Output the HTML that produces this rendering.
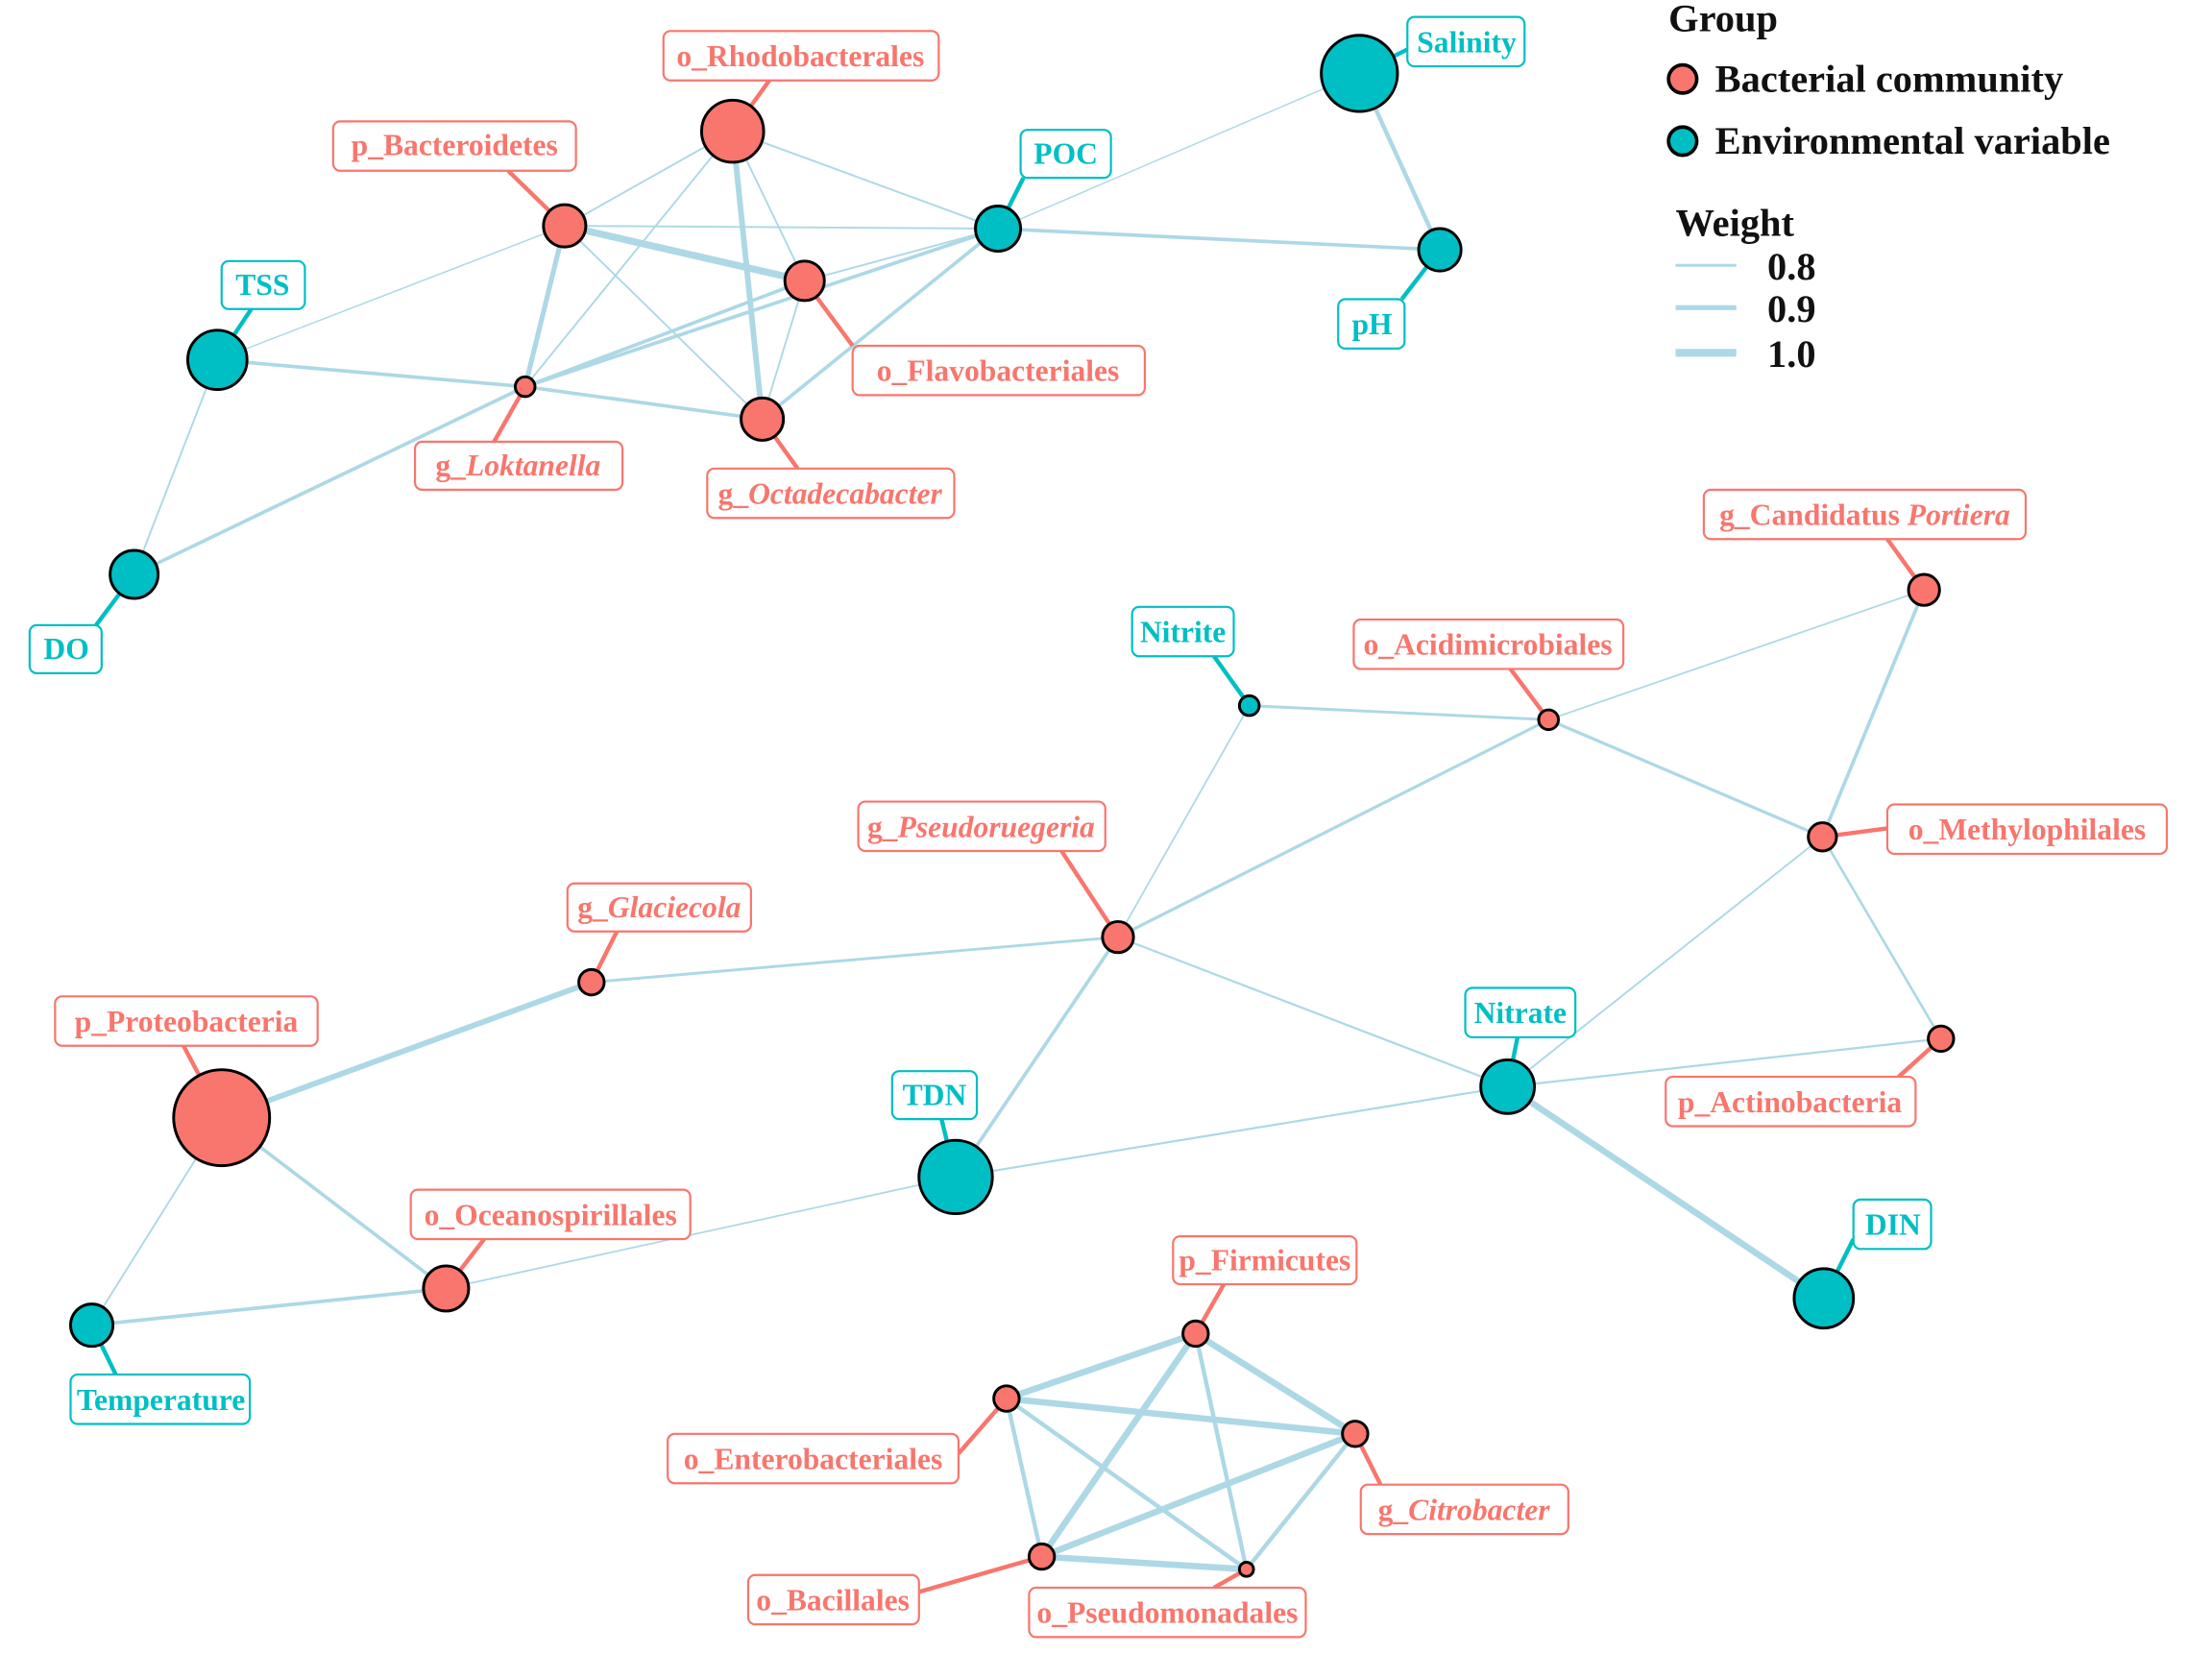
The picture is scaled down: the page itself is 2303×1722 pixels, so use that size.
<!DOCTYPE html>
<html><head><meta charset="utf-8"><style>
html,body{margin:0;padding:0;background:#fff;}
svg{display:block;}
text{font-family:"Liberation Serif",serif;font-weight:bold;}
.r text{fill:#F8766D;}
.t text{fill:#00BFC4;}
</style></head><body>
<svg width="2303" height="1722" viewBox="0 0 1567 1172" preserveAspectRatio="none" xmlns="http://www.w3.org/2000/svg">
<rect width="1567" height="1172" fill="#fff"/>
<g stroke="#ADD8E6" stroke-linecap="round" fill="none">
<line x1="400" y1="160" x2="519" y2="93" stroke-width="1.3"/>
<line x1="400" y1="160" x2="570" y2="199" stroke-width="5"/>
<line x1="400" y1="160" x2="707" y2="162" stroke-width="1.3"/>
<line x1="400" y1="160" x2="372" y2="274" stroke-width="3.5"/>
<line x1="400" y1="160" x2="540" y2="297" stroke-width="1.3"/>
<line x1="519" y1="93" x2="540" y2="297" stroke-width="4"/>
<line x1="519" y1="93" x2="570" y2="199" stroke-width="1.3"/>
<line x1="519" y1="93" x2="372" y2="274" stroke-width="1.3"/>
<line x1="519" y1="93" x2="707" y2="162" stroke-width="1.3"/>
<line x1="570" y1="199" x2="540" y2="297" stroke-width="1.3"/>
<line x1="570" y1="199" x2="707" y2="162" stroke-width="1.3"/>
<line x1="372" y1="274" x2="707" y2="162" stroke-width="2.5"/>
<line x1="372" y1="274" x2="570" y2="199" stroke-width="2.5"/>
<line x1="372" y1="274" x2="540" y2="297" stroke-width="2.5"/>
<line x1="154" y1="255" x2="372" y2="274" stroke-width="2.5"/>
<line x1="154" y1="255" x2="400" y2="160" stroke-width="1"/>
<line x1="154" y1="255" x2="95" y2="407" stroke-width="1.3"/>
<line x1="95" y1="407" x2="372" y2="274" stroke-width="2.5"/>
<line x1="540" y1="297" x2="707" y2="162" stroke-width="2.5"/>
<line x1="707" y1="162" x2="1020" y2="177" stroke-width="2.5"/>
<line x1="707" y1="162" x2="963" y2="52" stroke-width="1"/>
<line x1="963" y1="52" x2="1020" y2="177" stroke-width="3"/>
<line x1="885" y1="500" x2="1097" y2="510" stroke-width="2"/>
<line x1="885" y1="500" x2="792" y2="664" stroke-width="1.2"/>
<line x1="1097" y1="510" x2="1363" y2="418" stroke-width="1.2"/>
<line x1="1097" y1="510" x2="1291" y2="593" stroke-width="2.2"/>
<line x1="1097" y1="510" x2="792" y2="664" stroke-width="2.2"/>
<line x1="1363" y1="418" x2="1291" y2="593" stroke-width="2.5"/>
<line x1="1291" y1="593" x2="1068" y2="770" stroke-width="1.3"/>
<line x1="1291" y1="593" x2="1375" y2="736" stroke-width="1.8"/>
<line x1="792" y1="664" x2="419" y2="696" stroke-width="2"/>
<line x1="792" y1="664" x2="677" y2="834" stroke-width="2.5"/>
<line x1="792" y1="664" x2="1068" y2="770" stroke-width="1.5"/>
<line x1="1068" y1="770" x2="1375" y2="736" stroke-width="1.5"/>
<line x1="1068" y1="770" x2="677" y2="834" stroke-width="1.5"/>
<line x1="1068" y1="770" x2="1292" y2="920" stroke-width="4.5"/>
<line x1="677" y1="834" x2="316" y2="913" stroke-width="1.2"/>
<line x1="419" y1="696" x2="157" y2="792" stroke-width="4"/>
<line x1="157" y1="792" x2="316" y2="913" stroke-width="2.5"/>
<line x1="157" y1="792" x2="65" y2="939" stroke-width="1.3"/>
<line x1="65" y1="939" x2="316" y2="913" stroke-width="2.5"/>
<line x1="847" y1="945" x2="713" y2="991" stroke-width="4.5"/>
<line x1="847" y1="945" x2="960" y2="1016" stroke-width="4.5"/>
<line x1="847" y1="945" x2="738" y2="1103" stroke-width="4.5"/>
<line x1="847" y1="945" x2="883" y2="1112" stroke-width="3"/>
<line x1="713" y1="991" x2="960" y2="1016" stroke-width="4.5"/>
<line x1="713" y1="991" x2="738" y2="1103" stroke-width="3"/>
<line x1="713" y1="991" x2="883" y2="1112" stroke-width="3"/>
<line x1="960" y1="1016" x2="738" y2="1103" stroke-width="4.5"/>
<line x1="960" y1="1016" x2="883" y2="1112" stroke-width="3"/>
<line x1="738" y1="1103" x2="883" y2="1112" stroke-width="4.5"/>
</g>
<g stroke-width="3">
<g stroke="#F8766D">
<line x1="519" y1="93" x2="545" y2="57"/>
<line x1="400" y1="160" x2="360" y2="121"/>
<line x1="570" y1="199" x2="604" y2="245"/>
<line x1="372" y1="274" x2="350" y2="313"/>
<line x1="540" y1="297" x2="565" y2="332"/>
<line x1="1363" y1="418" x2="1337" y2="382"/>
<line x1="1097" y1="510" x2="1070" y2="474"/>
<line x1="1291" y1="593" x2="1337" y2="587"/>
<line x1="792" y1="664" x2="752" y2="603"/>
<line x1="419" y1="696" x2="437" y2="660"/>
<line x1="157" y1="792" x2="130" y2="741"/>
<line x1="1375" y1="736" x2="1345" y2="763"/>
<line x1="316" y1="913" x2="343" y2="878"/>
<line x1="847" y1="945" x2="867" y2="910"/>
<line x1="713" y1="991" x2="679" y2="1030"/>
<line x1="960" y1="1016" x2="978" y2="1052"/>
<line x1="738" y1="1103" x2="651" y2="1128"/>
<line x1="883" y1="1112" x2="860" y2="1125"/>
</g>
<g stroke="#00BFC4">
<line x1="154" y1="255" x2="178" y2="219"/>
<line x1="95" y1="407" x2="68" y2="443"/>
<line x1="707" y1="162" x2="725" y2="126"/>
<line x1="963" y1="52" x2="997" y2="35"/>
<line x1="1020" y1="177" x2="993" y2="212"/>
<line x1="885" y1="500" x2="860" y2="465"/>
<line x1="1068" y1="770" x2="1075" y2="735"/>
<line x1="677" y1="834" x2="667" y2="793"/>
<line x1="1292" y1="920" x2="1313" y2="878"/>
<line x1="65" y1="939" x2="82" y2="974"/>
</g>
</g>
<g stroke="#000" stroke-width="2">
<g fill="#F8766D">
<circle cx="519" cy="93" r="22"/><circle cx="400" cy="160" r="15"/><circle cx="570" cy="199" r="14"/>
<circle cx="372" cy="274" r="7"/><circle cx="540" cy="297" r="15"/><circle cx="1363" cy="418" r="11"/>
<circle cx="1097" cy="510" r="7"/><circle cx="1291" cy="593" r="10"/><circle cx="792" cy="664" r="11"/>
<circle cx="419" cy="696" r="9"/><circle cx="157" cy="792" r="34"/><circle cx="1375" cy="736" r="9"/>
<circle cx="316" cy="913" r="16"/><circle cx="847" cy="945" r="9"/><circle cx="713" cy="991" r="9"/>
<circle cx="960" cy="1016" r="9"/><circle cx="738" cy="1103" r="9"/><circle cx="883" cy="1112" r="5"/>
</g>
<g fill="#00BFC4">
<circle cx="154" cy="255" r="21"/><circle cx="95" cy="407" r="17"/><circle cx="707" cy="162" r="16"/>
<circle cx="963" cy="52" r="27"/><circle cx="1020" cy="177" r="15"/><circle cx="885" cy="500" r="7"/>
<circle cx="1068" cy="770" r="19"/><circle cx="677" cy="834" r="26"/><circle cx="1292" cy="920" r="21"/>
<circle cx="65" cy="939" r="15"/>
</g>
</g>
<g font-size="21.5" text-anchor="middle">
<g class="r">
<g fill="#fff" stroke="#F8766D" stroke-width="1.5">
<rect x="470" y="22" width="195" height="35" rx="5"/>
<rect x="236" y="86" width="172" height="35" rx="5"/>
<rect x="604" y="245" width="207" height="35" rx="5"/>
<rect x="294" y="313" width="147" height="34" rx="5"/>
<rect x="501" y="332" width="175" height="35" rx="5"/>
<rect x="1207" y="347" width="228" height="35" rx="5"/>
<rect x="959" y="439" width="191" height="35" rx="5"/>
<rect x="1337" y="570" width="198" height="35" rx="5"/>
<rect x="608" y="568" width="175" height="35" rx="5"/>
<rect x="402" y="626" width="130" height="34" rx="5"/>
<rect x="39" y="706" width="186" height="35" rx="5"/>
<rect x="1180" y="763" width="177" height="35" rx="5"/>
<rect x="291" y="843" width="198" height="35" rx="5"/>
<rect x="831" y="876" width="130" height="34" rx="5"/>
<rect x="473" y="1016" width="206" height="35" rx="5"/>
<rect x="964" y="1052" width="147" height="35" rx="5"/>
<rect x="530" y="1116" width="121" height="35" rx="5"/>
<rect x="729" y="1125" width="196" height="35" rx="5"/>
</g>
<text x="567" y="47">o_Rhodobacterales</text>
<text x="322" y="110">p_Bacteroidetes</text>
<text x="707" y="270">o_Flavobacteriales</text>
<text x="367" y="337">g_<tspan font-style="italic">Loktanella</tspan></text>
<text x="588" y="357">g_<tspan font-style="italic">Octadecabacter</tspan></text>
<text x="1321" y="372">g_Candidatus <tspan font-style="italic">Portiera</tspan></text>
<text x="1054" y="464">o_Acidimicrobiales</text>
<text x="1436" y="595">o_Methylophilales</text>
<text x="695" y="593">g_<tspan font-style="italic">Pseudoruegeria</tspan></text>
<text x="467" y="650">g_<tspan font-style="italic">Glaciecola</tspan></text>
<text x="132" y="731">p_Proteobacteria</text>
<text x="1268" y="788">p_Actinobacteria</text>
<text x="390" y="868">o_Oceanospirillales</text>
<text x="896" y="900">p_Firmicutes</text>
<text x="576" y="1041">o_Enterobacteriales</text>
<text x="1037" y="1077">g_<tspan font-style="italic">Citrobacter</tspan></text>
<text x="590" y="1141">o_Bacillales</text>
<text x="827" y="1150">o_Pseudomonadales</text>
</g>
<g class="t">
<g fill="#fff" stroke="#00BFC4" stroke-width="1.5">
<rect x="157" y="185" width="59" height="34" rx="5"/>
<rect x="21" y="443" width="51" height="34" rx="5"/>
<rect x="723" y="92" width="64" height="34" rx="5"/>
<rect x="997" y="12" width="83" height="35" rx="5"/>
<rect x="948" y="212" width="47" height="35" rx="5"/>
<rect x="802" y="430" width="72" height="35" rx="5"/>
<rect x="1038" y="700" width="78" height="35" rx="5"/>
<rect x="632" y="759" width="60" height="34" rx="5"/>
<rect x="1313" y="850" width="55" height="35" rx="5"/>
<rect x="50" y="974" width="127" height="35" rx="5"/>
</g>
<text x="186" y="209">TSS</text>
<text x="47" y="467">DO</text>
<text x="755" y="116">POC</text>
<text x="1039" y="37">Salinity</text>
<text x="972" y="237">pH</text>
<text x="838" y="455">Nitrite</text>
<text x="1077" y="725">Nitrate</text>
<text x="662" y="783">TDN</text>
<text x="1341" y="875">DIN</text>
<text x="114" y="999">Temperature</text>
</g>
</g>
<g font-size="27.5" fill="#111">
<text x="1182" y="22">Group</text>
<circle cx="1192" cy="56" r="10" fill="#F8766D" stroke="#000" stroke-width="2.5"/>
<text x="1215" y="65">Bacterial community</text>
<circle cx="1192" cy="100" r="10" fill="#00BFC4" stroke="#000" stroke-width="2.5"/>
<text x="1215" y="109">Environmental variable</text>
<text x="1187" y="167">Weight</text>
<line x1="1187" y1="188" x2="1230" y2="188" stroke="#ADD8E6" stroke-width="2"/>
<line x1="1187" y1="218" x2="1230" y2="218" stroke="#ADD8E6" stroke-width="3.5"/>
<line x1="1187" y1="250" x2="1230" y2="250" stroke="#ADD8E6" stroke-width="5.5"/>
<text x="1252" y="198">0.8</text>
<text x="1252" y="228">0.9</text>
<text x="1252" y="260">1.0</text>
</g>
</svg>
</body></html>
